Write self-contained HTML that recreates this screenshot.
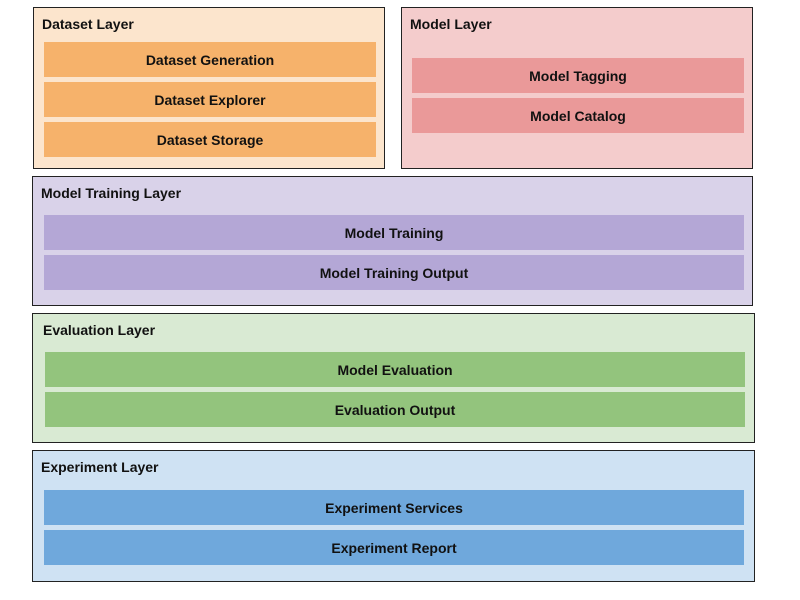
<!DOCTYPE html>
<html><head><style>
body{margin:0;width:800px;height:600px;background:#fff;position:relative;font-family:"Liberation Sans",Arial,sans-serif;font-weight:bold;font-size:14px;color:#111}
.l{position:absolute;border:1px solid #222;box-sizing:border-box}
.t{position:absolute;left:8px;top:8px}
.b{position:absolute;box-sizing:border-box;display:flex;align-items:center;justify-content:center}
</style></head><body>
<div class="l" style="left:33px;top:7px;width:352px;height:162px;background:#fce5cd"><div class="t">Dataset Layer</div></div>
<div class="b" style="left:44px;top:42px;width:332px;height:35px;background:#f6b26b">Dataset Generation</div>
<div class="b" style="left:44px;top:82px;width:332px;height:35px;background:#f6b26b">Dataset Explorer</div>
<div class="b" style="left:44px;top:122px;width:332px;height:35px;background:#f6b26b">Dataset Storage</div>

<div class="l" style="left:401px;top:7px;width:352px;height:162px;background:#f4cccc"><div class="t">Model Layer</div></div>
<div class="b" style="left:412px;top:58px;width:332px;height:35px;background:#ea9999">Model Tagging</div>
<div class="b" style="left:412px;top:98px;width:332px;height:35px;background:#ea9999">Model Catalog</div>

<div class="l" style="left:32px;top:176px;width:721px;height:130px;background:#d9d2e9"><div class="t">Model Training Layer</div></div>
<div class="b" style="left:44px;top:215px;width:700px;height:35px;background:#b4a7d6">Model Training</div>
<div class="b" style="left:44px;top:255px;width:700px;height:35px;background:#b4a7d6">Model Training Output</div>

<div class="l" style="left:32px;top:313px;width:723px;height:130px;background:#d9ead3"><div class="t" style="left:10px">Evaluation Layer</div></div>
<div class="b" style="left:45px;top:352px;width:700px;height:35px;background:#93c47d">Model Evaluation</div>
<div class="b" style="left:45px;top:392px;width:700px;height:35px;background:#93c47d">Evaluation Output</div>

<div class="l" style="left:32px;top:450px;width:723px;height:132px;background:#cfe2f3"><div class="t">Experiment Layer</div></div>
<div class="b" style="left:44px;top:490px;width:700px;height:35px;background:#6fa8dc">Experiment Services</div>
<div class="b" style="left:44px;top:530px;width:700px;height:35px;background:#6fa8dc">Experiment Report</div>
</body></html>
